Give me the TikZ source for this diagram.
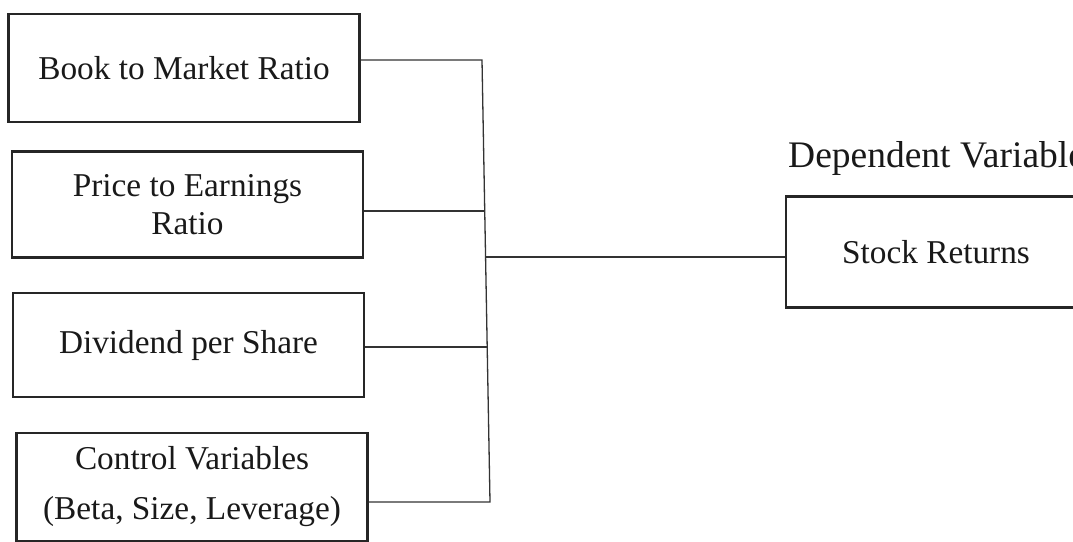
\documentclass[tikz,border=0pt]{standalone}
\usepackage{fontspec}
\setmainfont{Liberation Serif}
\begin{document}
\begin{tikzpicture}[x=1pt,y=-1pt,
  box/.style={draw=black!85, line width=2.4pt, minimum width=351pt,
    minimum height=106pt, inner sep=0pt, align=center, text=black!90,
    font=\fontsize{33.3}{38}\selectfont},
  link/.style={draw=black!80, line width=1.3pt}]
\useasboundingbox (0,0) rectangle (1073,541);
\clip (0,0) rectangle (1073,541);
% independent variables
\node[box, minimum height=108pt] (bm) at (184,68) {Book to Market Ratio};
\node[box] (pe) at (187.5,204.5) {Price to Earnings\\Ratio};
\node[box, minimum height=104pt] (dps) at (188.5,345) {Dividend per Share};
\node[box, minimum height=108pt, font=\fontsize{33.3}{50}\selectfont] (cv) at (192,487)
  {Control Variables\\(Beta, Size, Leverage)};
% dependent variable
\node[box, minimum width=300pt, minimum height=111pt] (sr) at (936,252) {Stock Returns};
\node[anchor=base west, inner sep=0pt, text=black!90, font=\fontsize{37.5}{40}\selectfont]
  (dv) at (788,167) {Dependent Variable};
% bracket joining the inputs
\coordinate (top) at (482,60);
\coordinate (bot) at (490,502);
\coordinate (j2) at (484.7,211);
\coordinate (jm) at (485.5,257);
\coordinate (j3) at (487.1,347);
\draw[link] (bm.east |- top) -- (top) -- (bot) -- (cv.east |- bot);
\draw[link] (pe.east |- j2) -- (j2);
\draw[link] (dps.east |- j3) -- (j3);
\draw[link] (jm) -- (sr.west |- jm);
\end{tikzpicture}
\end{document}
